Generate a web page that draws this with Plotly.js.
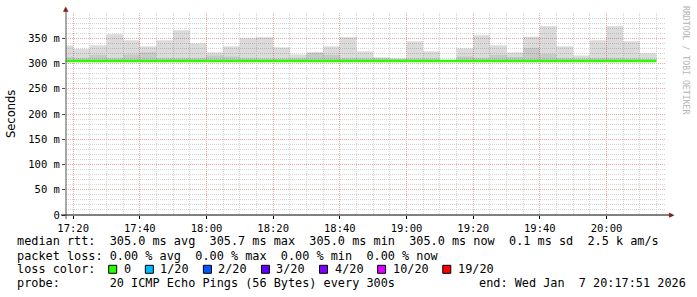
<!DOCTYPE html>
<html>
<head>
<meta charset="utf-8">
<script src="https://cdn.plot.ly/plotly-3.0.1.min.js"></script>
<style>html,body{margin:0;padding:0;background:#fff;}#chart{width:697px;height:297px;}</style>
</head>
<body>
<div id="chart"></div>
<script>
// ---- data (5-minute steps, start time of each step) ----
const times = [
  '2026-01-07 17:15:00','2026-01-07 17:20:00','2026-01-07 17:25:00','2026-01-07 17:30:00',
  '2026-01-07 17:35:00','2026-01-07 17:40:00','2026-01-07 17:45:00','2026-01-07 17:50:00',
  '2026-01-07 17:55:00','2026-01-07 18:00:00','2026-01-07 18:05:00','2026-01-07 18:10:00',
  '2026-01-07 18:15:00','2026-01-07 18:20:00','2026-01-07 18:25:00','2026-01-07 18:30:00',
  '2026-01-07 18:35:00','2026-01-07 18:40:00','2026-01-07 18:45:00','2026-01-07 18:50:00',
  '2026-01-07 18:55:00','2026-01-07 19:00:00','2026-01-07 19:05:00','2026-01-07 19:10:00',
  '2026-01-07 19:15:00','2026-01-07 19:20:00','2026-01-07 19:25:00','2026-01-07 19:30:00',
  '2026-01-07 19:35:00','2026-01-07 19:40:00','2026-01-07 19:45:00','2026-01-07 19:50:00',
  '2026-01-07 19:55:00','2026-01-07 20:00:00','2026-01-07 20:05:00','2026-01-07 20:10:00'
];
// smoke: lowest ping, upper edge of dense smoke, highest ping (ms)
const minPing = [305,305,305,305,305,305,305,305,305,305,305,305,305,305,305,305,305,305,
                 305,305,305,305,305,305,305,305,305,305,305,305,305,305,305,305,305,305];
const innerPing = [313,311,317,311,318,322,311,311,311,316,314,311,310,310,311,322,317,311,
                   311,311,310,310,310,307,314,311,317,313,331,319,311,310,311,311,310,309];
const maxPing = [336,329,336,358,346,334,346,366,340,322,334,350,352,332,318,322,334,352,
                 324,312,310,344,324,307,330,356,336,322,353,374,334,316,346,374,344,320];
const medianRtt = [305,305,305,305,305,305,305,305,305,305,305,305,305,305,305,305,305,305,
                   305,305,305,305,305,305,305,305,305,305,305,305,305,305,305,305,305,305];

const yTickVals = [0,50,100,150,200,250,300,350];
const yTickText = ['0','50 m','100 m','150 m','200 m','250 m','300 m','350 m'];

const rttStats = ['305.0 ms avg','305.7 ms max','305.0 ms min','305.0 ms now','0.1 ms sd','2.5 k am/s'];
const lossStats = ['0.00 % avg','0.00 % max','0.00 % min','0.00 % now'];
const lossLabels = ['0','1/20','2/20','3/20','4/20','10/20','19/20'];
const lossColors = ['#26ff00','#00b8ff','#0059ff','#5e00ff','#7e00ff','#dd00ff','#ff0000'];
const probeText = '20 ICMP Echo Pings (56 Bytes) every 300s';
const endText = 'end: Wed Jan  7 20:17:51 2026';

// ---- geometry helpers (pixel -> paper) ----
const L = 66, R = 666, T = 13, B = 215;
const px = x => (x - L) / (R - L);
const py = y => (B - y) / (B - T);
const nb = s => s.replace(/ /g, '\u00a0');
const MONO = 'DejaVu Sans Mono';
const CH = 7.14;

const STEP = 300000;
const endTime = new Date(new Date(times[times.length-1].replace(' ','T')+'Z').getTime() + STEP)
  .toISOString().replace('T',' ').slice(0,19);

const traces = [
  {type:'bar', x:times, base:minPing, y:maxPing.map((v,i)=>v-minPing[i]),
   width:STEP, offset:0, marker:{color:'rgba(0,0,0,0.14)', line:{width:0}}, hoverinfo:'skip'},
  {type:'bar', x:times, base:minPing, y:innerPing.map((v,i)=>v-minPing[i]),
   width:STEP, offset:0, marker:{color:'rgba(0,0,0,0.08)', line:{width:0}}, hoverinfo:'skip'},
  {type:'scatter', mode:'lines', x:times.concat([endTime]), y:medianRtt.concat([medianRtt[medianRtt.length-1]]),
   line:{color:lossColors[0], width:2.6, shape:'hv'}, hoverinfo:'skip'}
];

const annotations = [];
const shapes = [];
function txt(x, y, s, opts) {
  annotations.push(Object.assign({xref:'paper', yref:'paper', x:px(x), y:py(y), text:nb(s),
    showarrow:false, xanchor:'left', yanchor:'middle', borderpad:0,
    font:{family:MONO, size:11.85, color:'#000'}}, opts||{}));
}
const X0 = 15.5;
txt(X0, 241.5, 'median rtt:  ' + rttStats.join('  '));
txt(X0, 255.5, 'packet loss: ' + lossStats.join('  '));
txt(X0, 269.3, 'loss color:');
txt(X0, 282.5, 'probe:       ' + probeText);
txt(477.5, 282.5, endText);

let pos = 108.7;
lossLabels.forEach((lab, i) => {
  shapes.push({type:'rect', xref:'paper', yref:'paper', x0:px(pos), x1:px(pos+8), y0:py(273.3), y1:py(265.3),
    fillcolor:lossColors[i], line:{color:'#000', width:1}});
  txt(pos + 14.0, 269.3, lab);
  pos = pos + 14.5 + lab.length * CH + 15;
});

// y axis title
annotations.push({xref:'paper', yref:'paper', x:px(11), y:py(114), text:'Seconds', textangle:-90,
  showarrow:false, xanchor:'center', yanchor:'middle', font:{family:'DejaVu Sans', size:11.5, color:'#000'}});
// watermark
annotations.push({xref:'paper', yref:'paper', x:px(686), y:py(60), text:nb('RRDTOOL / TOBI OETIKER'), textangle:90,
  showarrow:false, xanchor:'center', yanchor:'middle', font:{family:MONO, size:8.2, color:'#b4b4b4'}});
// axis arrows
annotations.push({xref:'paper', yref:'paper', x:px(66), y:py(9.5), text:'\u25B2', showarrow:false,
  xanchor:'center', yanchor:'middle', font:{family:'DejaVu Sans', size:7, color:'#7f2020'}});
annotations.push({xref:'paper', yref:'paper', x:px(671.5), y:py(215), text:'\u25B6', showarrow:false,
  xanchor:'center', yanchor:'middle', font:{family:'DejaVu Sans', size:7, color:'#7f2020'}});

// axis line extensions
shapes.push({type:'line', xref:'paper', yref:'paper', x0:px(66), x1:px(66), y0:py(219), y1:py(11),
  line:{color:'#555', width:1}, layer:'above'});
shapes.push({type:'line', xref:'paper', yref:'paper', x0:px(61), x1:px(669), y0:py(215), y1:py(215),
  line:{color:'#000', width:1}, layer:'above'});

const MAJOR = '#eaa6a6', MINOR = '#d4d4d4', DASH = '1px,1px';
const layout = {
  width:697, height:297,
  margin:{l:L, r:697-R, t:T, b:297-B, pad:0},
  paper_bgcolor:'#fff', plot_bgcolor:'#fff',
  showlegend:false, barmode:'overlay',
  xaxis:{type:'date', range:['2026-01-07 17:17:51','2026-01-07 20:17:51'],
    tickformat:'%H:%M', tick0:'2026-01-07 17:20:00', dtick:1200000,
    showgrid:true, gridcolor:MAJOR, griddash:DASH, gridwidth:1,
    minor:{tick0:'2026-01-07 17:20:00', dtick:STEP, showgrid:true, gridcolor:MINOR, griddash:DASH, gridwidth:1},
    ticks:'outside', ticklen:3, tickcolor:'#000', showline:false, zeroline:false,
    tickfont:{family:MONO, size:10.5, color:'#000'}, fixedrange:true},
  yaxis:{range:[0,400], tickvals:yTickVals, ticktext:yTickText,
    showgrid:true, gridcolor:MAJOR, griddash:DASH, gridwidth:1,
    minor:{dtick:10, showgrid:true, gridcolor:MINOR, griddash:DASH, gridwidth:1},
    ticks:'outside', ticklen:3, tickcolor:'#555', showline:false, zeroline:false,
    tickfont:{family:MONO, size:10.5, color:'#000'}, fixedrange:true},
  annotations:annotations, shapes:shapes
};

Plotly.newPlot('chart', traces, layout, {staticPlot:true, displayModeBar:false});
</script>
</body>
</html>
